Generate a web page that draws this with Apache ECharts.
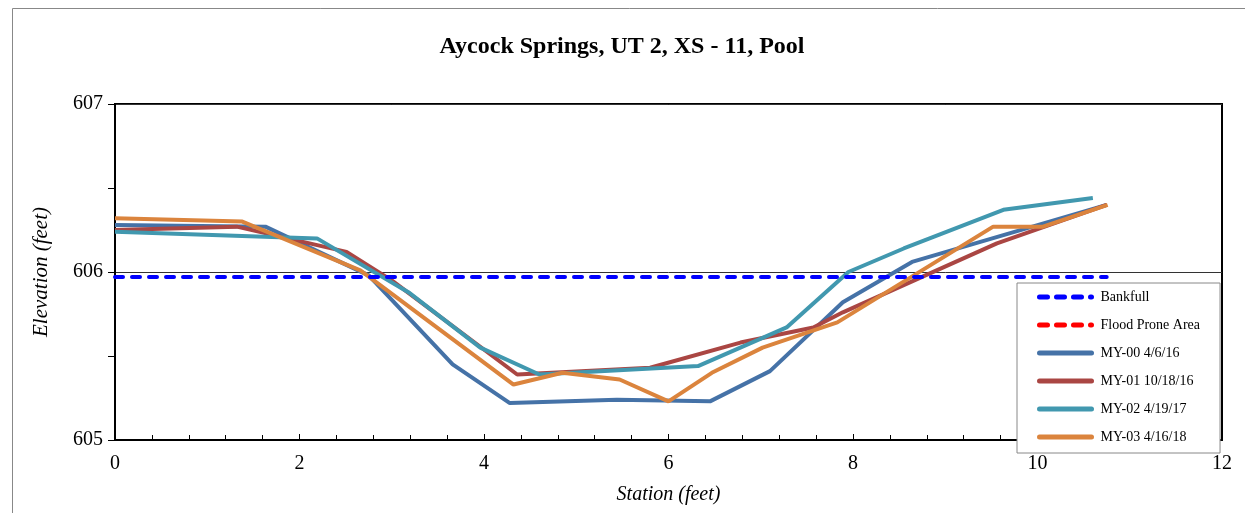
<!DOCTYPE html>
<html>
<head>
<meta charset="utf-8">
<script src="https://cdn.jsdelivr.net/npm/echarts@6/dist/echarts.min.js"></script>
<style>
html,body{margin:0;padding:0;background:#fff;}
#chart{width:1245px;height:513px;}
</style>
</head>
<body>
<div id="chart"></div>
<script>
var titleText = 'Aycock Springs, UT 2, XS - 11, Pool';
var xAxisName = 'Station (feet)';
var yAxisName = 'Elevation (feet)';
var seriesNames = ['Bankfull', 'Flood Prone Area', 'MY-00 4/6/16', 'MY-01 10/18/16', 'MY-02 4/19/17', 'MY-03 4/16/18'];

var bankfull = [[0, 605.97], [10.75, 605.97]];
var floodProne = [];
var my00 = [[0, 606.28], [1.63, 606.27], [2.75, 605.98], [3.66, 605.45], [4.28, 605.22], [5.44, 605.24], [6.45, 605.23], [7.10, 605.41], [7.89, 605.82], [8.64, 606.06], [10.75, 606.40]];
var my01 = [[0, 606.25], [1.32, 606.27], [2.51, 606.12], [3.0, 605.95], [4.36, 605.39], [5.80, 605.43], [6.78, 605.58], [7.57, 605.67], [7.89, 605.76], [9.56, 606.17], [10.75, 606.40]];
var my02 = [[0, 606.24], [2.19, 606.20], [3.18, 605.88], [3.96, 605.55], [4.60, 605.39], [6.32, 605.44], [7.28, 605.67], [7.95, 606.0], [8.55, 606.14], [9.63, 606.37], [10.60, 606.44]];
var my03 = [[0, 606.32], [1.38, 606.30], [2.66, 606.01], [4.32, 605.33], [4.85, 605.40], [5.47, 605.36], [6.0, 605.23], [6.47, 605.40], [7.02, 605.55], [7.83, 605.70], [9.52, 606.27], [10.06, 606.27], [10.76, 606.40]];

var colors = ['#0000FF', '#FF0000', '#4572A7', '#AA4643', '#4198AF', '#DB843D'];
var FONT = '"Liberation Serif", "Times New Roman", serif';

var chart = echarts.init(document.getElementById('chart'));
function lineSeries(i, data, dashed) {
  return {
    name: seriesNames[i],
    type: 'line',
    data: data,
    symbol: 'none',
    color: colors[i],
    lineStyle: dashed ? {color: colors[i], width: 4, type: [8, 9], cap: 'round'} : {color: colors[i], width: 4},
    z: dashed ? 3 : 2,
    animation: false
  };
}
chart.setOption({
  animation: false,
  backgroundColor: '#fff',
  title: {
    text: titleText,
    left: 617, top: 30, textAlign: 'center',
    textStyle: {fontFamily: FONT, fontSize: 24, fontWeight: 'bold', color: '#000'}
  },
  graphic: [{
    type: 'rect', left: 10, top: 6, silent: true,
    shape: {width: 1300, height: 600},
    style: {fill: 'none', stroke: '#888', lineWidth: 1}
  }],
  grid: {
    left: 115, right: 23, top: 104, bottom: 73,
    show: true, borderColor: '#000', borderWidth: 2, backgroundColor: 'transparent'
  },
  legend: {
    orient: 'vertical', left: 1017, top: 283, z: 10,
    backgroundColor: '#fff', borderColor: '#888', borderWidth: 1,
    padding: [7, 20, 9, 20],
    itemWidth: 52, itemHeight: 14, itemGap: 14,
    itemStyle: {opacity: 0},
    lineStyle: {width: 5, cap: 'round'},
    textStyle: {fontFamily: FONT, fontSize: 14, color: '#000', padding: [0, 0, 0, 4]},
    data: seriesNames
  },
  xAxis: {
    type: 'value', min: 0, max: 12, interval: 2,
    name: xAxisName, nameLocation: 'middle', nameGap: 45,
    nameTextStyle: {fontFamily: FONT, fontSize: 20, fontStyle: 'italic', color: '#000'},
    axisLine: {show: true, lineStyle: {color: '#000', width: 2}},
    axisTick: {show: true, inside: true, length: 6, lineStyle: {color: '#000'}},
    minorTick: {show: true, splitNumber: 5, length: 5, lineStyle: {color: '#000'}},
    axisLabel: {fontFamily: FONT, fontSize: 20, color: '#000', margin: 14},
    splitLine: {show: false}
  },
  yAxis: {
    type: 'value', min: 605, max: 607, interval: 1,
    name: yAxisName, nameLocation: 'middle', nameGap: 63,
    nameTextStyle: {fontFamily: FONT, fontSize: 21, fontStyle: 'italic', color: '#000'},
    axisLine: {show: true, lineStyle: {color: '#000', width: 2}},
    axisTick: {show: true, inside: false, length: 7, lineStyle: {color: '#000'}},
    minorTick: {show: true, splitNumber: 2, length: 7, lineStyle: {color: '#000'}},
    axisLabel: {fontFamily: FONT, fontSize: 20, color: '#000', margin: 12},
    splitLine: {show: true, lineStyle: {color: '#333', width: 1}}
  },
  series: [
    lineSeries(0, bankfull, true),
    lineSeries(1, floodProne, true),
    lineSeries(2, my00, false),
    lineSeries(3, my01, false),
    lineSeries(4, my02, false),
    lineSeries(5, my03, false)
  ]
});
</script>
</body>
</html>
